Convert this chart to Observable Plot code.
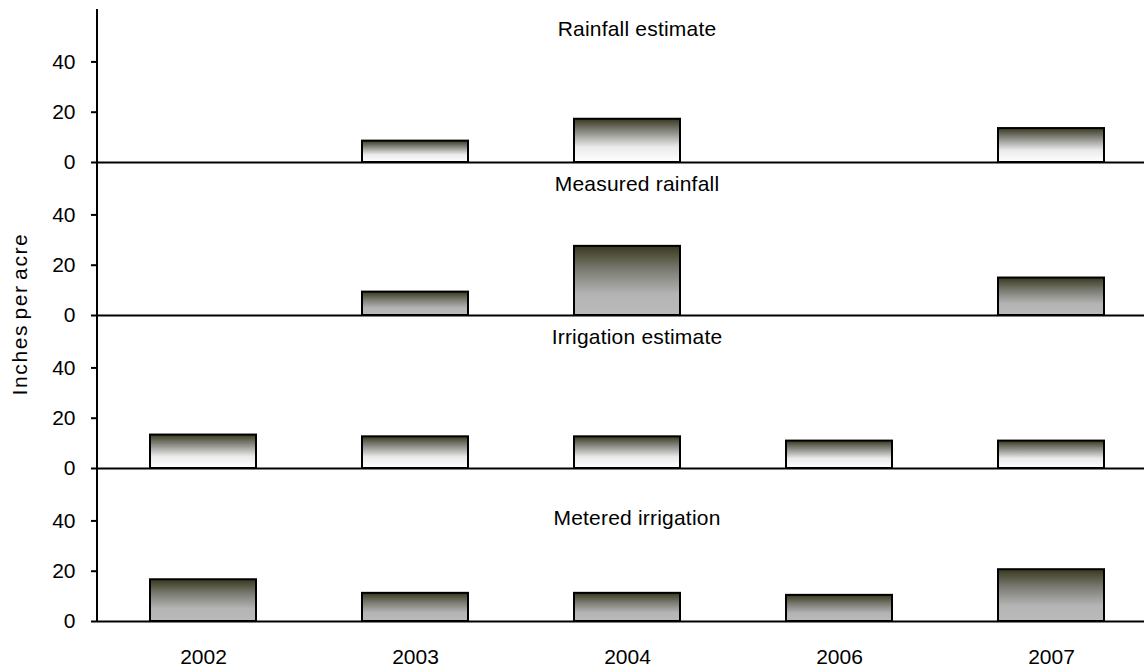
<!DOCTYPE html>
<html><head><meta charset="utf-8">
<script src="https://cdn.jsdelivr.net/npm/d3@7"></script>
<script src="https://cdn.jsdelivr.net/npm/@observablehq/plot@0.6"></script>
<style>
body{margin:0;background:#fff;}
#wrap{position:relative;width:1144px;height:671px;font-family:"Liberation Sans",Arial,sans-serif;}
#ylab{position:absolute;left:20px;top:314px;transform:translate(-50%,-50%) rotate(-90deg);font-size:21px;white-space:nowrap;color:#000;letter-spacing:1.6px;word-spacing:-3px;}
#wrap svg [aria-label^="y-axis"] line, #wrap svg [aria-label^="y-axis"] path{stroke-width:2;}
#wrap svg g[aria-label="text"] text{letter-spacing:0.2px;}
</style></head><body>
<div id="wrap"><div id="ylab">Inches per acre</div></div>
<script>
const years = ["2002", "2003", "2004", "2006", "2007"];
const panels = ["Rainfall estimate", "Measured rainfall", "Irrigation estimate", "Metered irrigation"];
const rainfallEstimate   = [null, 8.5, 17.2, null, 13.5];
const measuredRainfall   = [null, 9.3, 27.5, null, 14.9];
const irrigationEstimate = [13.3, 12.6, 12.6, 10.9, 10.9];
const meteredIrrigation  = [16.6, 11.2, 11.2, 10.4, 20.6];
const yTicks = [0, 20, 40];

const series = [rainfallEstimate, measuredRainfall, irrigationEstimate, meteredIrrigation];
const lightPanels = ["Rainfall estimate", "Irrigation estimate"];
const rows = [];
panels.forEach((p, i) => series[i].forEach((v, j) => {
  if (v != null) rows.push({panel: p, year: years[j], value: v});
}));
const yMax = 60.85;

const chart = Plot.plot({
  width: 1144,
  height: 671,
  marginTop: 7,
  marginBottom: 49,
  marginLeft: 97,
  marginRight: 0,
  style: {fontFamily: '"Liberation Sans", Arial, sans-serif', fontSize: "21px", color: "#000", background: "transparent"},
  x: {domain: years, range: [97, 1157], paddingInner: 0.5, paddingOuter: 0.25, align: 0.5, tickSize: 0, tickPadding: 28, label: null},
  y: {domain: [0, yMax], ticks: yTicks, tickSize: 6, tickPadding: 16, label: null},
  fy: {domain: panels, axis: null, padding: 0},
  marks: [
    Plot.ruleY([0], {stroke: "#000", strokeWidth: 2}),
    Plot.barY(rows.filter(d => lightPanels.includes(d.panel)), {x: "year", y: "value", fy: "panel", fill: "url(#gradLight)", stroke: "#000", strokeWidth: 2}),
    Plot.barY(rows.filter(d => !lightPanels.includes(d.panel)), {x: "year", y: "value", fy: "panel", fill: "url(#gradDark)", stroke: "#000", strokeWidth: 2}),
    Plot.text(panels, {fy: d => d, text: d => d, y: d => d === "Metered irrigation" ? 41 : (d === "Rainfall estimate" ? 53 : 52), frameAnchor: "middle", dx: 16, fill: "#000", fontSize: 21}),
    (index, scales, values, dimensions) => {
      const g = d3.create("svg:g");
      g.append("line")
        .attr("x1", dimensions.marginLeft).attr("x2", dimensions.marginLeft)
        .attr("y1", scales.y(0)).attr("y2", scales.y(yMax))
        .attr("stroke", "#000").attr("stroke-width", 2);
      return g.node();
    }
  ]
});

const defs = d3.select(chart).insert("defs", ":first-child");
const gl = defs.append("linearGradient").attr("id", "gradLight").attr("x1", 0).attr("y1", 0).attr("x2", 0).attr("y2", 1);
gl.append("stop").attr("offset", "0%").attr("stop-color", "#38381e");
gl.append("stop").attr("offset", "30%").attr("stop-color", "#8a8a84");
gl.append("stop").attr("offset", "65%").attr("stop-color", "#eaeaea");
gl.append("stop").attr("offset", "100%").attr("stop-color", "#ffffff");
const gd = defs.append("linearGradient").attr("id", "gradDark").attr("x1", 0).attr("y1", 0).attr("x2", 0).attr("y2", 1);
gd.append("stop").attr("offset", "0%").attr("stop-color", "#38381e");
gd.append("stop").attr("offset", "35%").attr("stop-color", "#7c7c74");
gd.append("stop").attr("offset", "70%").attr("stop-color", "#b4b4b4");
gd.append("stop").attr("offset", "100%").attr("stop-color", "#bababa");

document.getElementById("wrap").appendChild(chart);
chart.style.position = "absolute";
chart.style.left = "0";
chart.style.top = "0";
</script>
</body></html>
